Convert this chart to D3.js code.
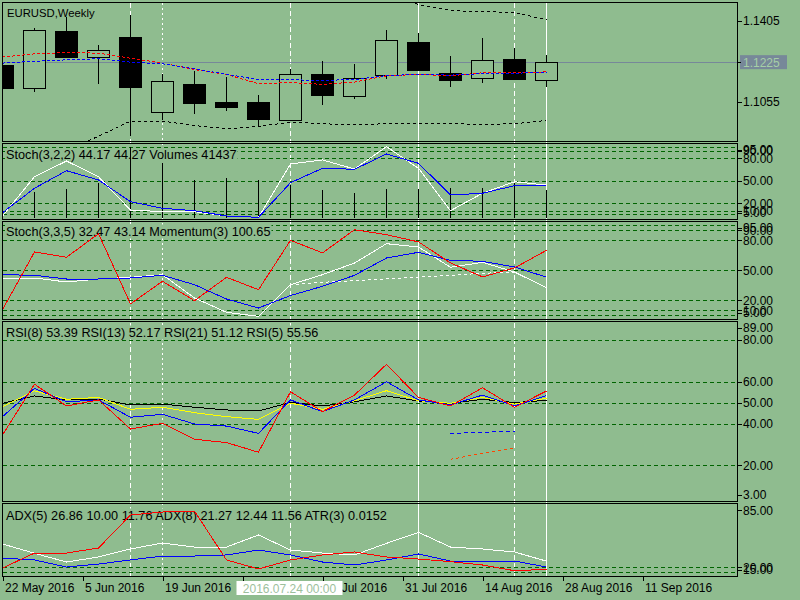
<!DOCTYPE html>
<html>
<head>
<meta charset="utf-8">
<style>
    body { margin: 0; background: #8fbc8f; }
    svg { display: block; font-family: "Liberation Sans", Arial, sans-serif; font-size: 12px; }
    .hdr { font-size: 12.7px; }
    .hdr.sym { font-size: 11.3px; }
</style>
</head>
<body>
<script src="https://cdn.jsdelivr.net/npm/d3@7"></script>
<script type="text/javascript">
    // weekly bars
    var weeks = ["2016-05-22", "2016-05-29", "2016-06-05", "2016-06-12", "2016-06-19", "2016-06-26",
                 "2016-07-03", "2016-07-10", "2016-07-17", "2016-07-24", "2016-07-31", "2016-08-07",
                 "2016-08-14", "2016-08-21", "2016-08-28", "2016-09-04", "2016-09-11", "2016-09-18"];
    var open  = [1.1211, 1.1113, 1.1358, 1.1247, 1.1332, 1.1009, 1.1129, 1.1051, 1.1051, 1.0972, 1.1172, 1.1082, 1.1169, 1.1310, 1.1180, 1.1156, 1.1237, 1.1149];
    var high  = [1.1222, 1.1374, 1.1419, 1.1299, 1.1427, 1.1172, 1.1186, 1.1160, 1.1084, 1.1196, 1.1232, 1.1215, 1.1366, 1.1353, 1.1250, 1.1329, 1.1285, 1.1254];
    var low   = [1.1100, 1.1095, 1.1244, 1.1131, 1.0908, 1.0973, 1.1002, 1.1013, 1.0951, 1.0972, 1.1038, 1.1065, 1.1151, 1.1185, 1.1117, 1.1134, 1.1146, 1.1117];
    var close = [1.1113, 1.1365, 1.1247, 1.1278, 1.1117, 1.1142, 1.1048, 1.1031, 1.0976, 1.1172, 1.1082, 1.1158, 1.1322, 1.1189, 1.1151, 1.1235, 1.1151, 1.1225];
    var maRed  = [1.1247, 1.1261, 1.1266, 1.1264, 1.1242, 1.1221, 1.1193, 1.1172, 1.1132, 1.1137, 1.1129, 1.1139, 1.1166, 1.1172, 1.1166, 1.1179, 1.1179, 1.1183];
    var maBlue = [1.1221, 1.1229, 1.1235, 1.1240, 1.1225, 1.1218, 1.1196, 1.1173, 1.1149, 1.1149, 1.1146, 1.1150, 1.1167, 1.1172, 1.1169, 1.1175, 1.1177, 1.1182];
    var bandLower = [null, null, 1.0843, 1.0905, 1.0970, 1.0970, 1.0951, 1.0937, 1.0947, 1.0966, 1.0959, 1.0954, 1.0959, 1.0959, 1.0959, 1.0956, 1.0959, 1.0973];
    var bandUpper = [null, null, null, null, null, null, null, null, null, null, null, null, 1.1513, 1.1474, 1.1448, 1.1443, 1.1440, 1.1408];
    var bid = 1.1225;
    var priceTicks = [1.1405, 1.1055];

    // Stoch(3,2,2) + Volumes
    var stK1 = [2.7, 55.4, 76.5, 55.4, 10.7, 8.5, 8.5, 2.7, 0.9, 72.5, 77.9, 65.8, 95.7, 66.7, 9.8, 33.2, 48.7, 44.17];
    var stD1 = [7.1, 39.9, 63.5, 51.0, 21.9, 13.0, 9.8, 2.7, 0.9, 47.4, 66.7, 65.4, 85.9, 73.4, 30.9, 33.2, 43.4, 44.27];
    var volumes = [40000, 38900, 42900, 51400, 104600, 81000, 56200, 58800, 56200, 48800, 41400, 36600, 42900, 42900, 44000, 44000, 52200, 41437];
    var stochLevels = [95, 90, 80, 50, 20, 10, 5];

    // Stoch(3,3,5) + Momentum(3)
    var stK2 = [42.3, 42.3, 38.3, 41.3, 43.0, 45.6, 22.3, 8.0, 4.0, 35.6, 45.6, 57.3, 76.6, 73.3, 53.0, 58.0, 48.3, 32.47];
    var stD2 = [45.6, 45.0, 41.3, 41.3, 42.3, 45.0, 35.6, 21.3, 12.3, 24.8, 34.0, 45.0, 62.3, 68.0, 60.0, 59.0, 53.3, 43.14];
    var stS2 = [null, null, null, null, null, null, null, null, null, 35.6, 38.0, 39.6, 41.3, 43.3, 45.0, 47.0, 48.3, null];
    var momentum = [97.68, 100.57, 100.30, 101.48, 97.97, 99.10, 98.13, 99.30, 98.68, 101.15, 100.52, 101.68, 101.43, 101.07, 100.02, 99.32, 99.77, 100.65];

    // RSI
    var rsi5  = [34.5, 58.8, 48.4, 51.3, 37.4, 40.1, 32.5, 30.9, 26.3, 55.2, 45.7, 53.6, 68.3, 52.5, 48.4, 57.1, 47.8, 55.56];
    var rsi8  = [43.3, 56.8, 50.4, 51.3, 43.0, 44.4, 39.8, 38.8, 35.3, 51.3, 45.7, 51.3, 60.0, 51.3, 48.9, 53.6, 48.4, 53.39];
    var rsi13 = [48.1, 55.6, 51.6, 52.5, 46.8, 47.8, 45.2, 43.3, 42.0, 49.7, 46.8, 50.9, 55.7, 50.9, 49.7, 52.5, 49.3, 52.17];
    var rsi21 = [49.7, 53.2, 51.3, 51.7, 48.9, 49.3, 47.8, 46.5, 46.0, 50.1, 48.4, 50.4, 53.2, 50.8, 49.7, 51.6, 50.0, 51.12];
    var rsiAvgBlue = [null, null, null, null, null, null, null, null, null, null, null, null, null, null, 35.3, 35.8, 36.4, null];
    var rsiAvgRed  = [null, null, null, null, null, null, null, null, null, null, null, null, null, null, 22.9, 25.8, 28.2, null];
    var rsiLevels = [80, 60, 50, 40, 20];
    var rsiLabels = [89, 80, 60, 50, 40, 20, 3];

    // ADX
    var adx = [46.4, 35.8, 25.9, 31.6, 40.7, 47.5, 42.9, 42.9, 56.6, 39.5, 36.1, 33.9, 47.1, 59.6, 42.9, 40.7, 37.3, 26.86];
    var pdi = [30.4, 28.2, 20.2, 23.6, 28.2, 32.7, 32.7, 33.9, 39.5, 33.9, 25.9, 22.5, 28.2, 35.0, 27.0, 27.0, 27.0, 20.2];
    var mdi = [19.0, 36.1, 36.1, 41.8, 79.3, 82.7, 83.8, 28.2, 18.0, 28.2, 33.9, 37.3, 31.6, 29.3, 26.3, 22.5, 16.0, 17.6];
    var adxLevels = [20, 15];
    var adxLabels = [85, 20, 15];

    // time axis labels and separator bars
    var dateTicks = ["2016-05-22", "2016-06-05", "2016-06-19", "2016-07-03", "2016-07-17",
                     "2016-07-31", "2016-08-14", "2016-08-28", "2016-09-11"];
    var separators = [4, 5, 9, 13, 16, 17];
    var separatorDash = ["5,3", "2,3", "5,3", null, "5,3", null];
    var crossBar = 9;

    var W = 800, H = 600, bg = "#8fbc8f", left = 2.5, right = 737.5, grid = "#006400";
    var parse = d3.utcParse("%Y-%m-%d");

    var svg = d3.select("body").append("svg").attr("width", W).attr("height", H);
    svg.append("rect").attr("width", W).attr("height", H).attr("fill", bg);

    var x = d3.scaleLinear().domain([0, 1]).range([2.5, 34.5]);
    var xt = d3.scaleUtc().domain([parse("2016-05-22"), parse("2016-06-05")]).range([2.5, 82.5]);

    var panels = [
        { id: "main", top: 2.5,   bottom: 141.5, base: 16.5,  y: d3.scaleLinear().domain([1.1055, 1.1405]).range([101.5, 20.5]) },
        { id: "st1",  top: 143.5, bottom: 219.5, base: 159,   y: d3.scaleLinear().domain([0, 100]).range([218, 143.5]) },
        { id: "st2",  top: 221.5, bottom: 319.5, base: 235.5, y: d3.scaleLinear().domain([0, 100]).range([320.3, 220.3]) },
        { id: "rsi",  top: 321.5, bottom: 501.5, base: 336.5, y: d3.scaleLinear().domain([3, 89]).range([501, 321]) },
        { id: "adx",  top: 503.5, bottom: 576.5, base: 519.5, y: d3.scaleLinear().domain([10, 85]).range([576, 510]) }
    ];
    var P = {};
    panels.forEach(function (p) { P[p.id] = p; });
    var yVol = d3.scaleLinear().domain([0, 110000]).range([218, 143.5]);
    var yMom = d3.scaleLinear().domain([97.15, 102.15]).range([320.3, 220.3]);

    // separator bars behind everything
    svg.append("g").selectAll("line")
        .data(separators)
        .enter().append("line")
        .attr("x1", function (d) { return x(d); })
        .attr("x2", function (d) { return x(d); })
        .attr("y1", 2.5).attr("y2", 576.5)
        .attr("stroke", "#ffffff")
        .attr("stroke-dasharray", function (d, i) { return separatorDash[i]; })
        .attr("shape-rendering", "crispEdges");

    // panel groups with clipping
    panels.forEach(function (p) {
        svg.append("clipPath").attr("id", "clip-" + p.id)
            .append("rect").attr("x", left).attr("y", p.top)
            .attr("width", right - left).attr("height", p.bottom - p.top);
        p.g = svg.append("g").attr("clip-path", "url(#clip-" + p.id + ")");
    });

    function levels(p, vals) {
        p.g.selectAll(null).data(vals).enter().append("line")
            .attr("x1", left).attr("x2", right)
            .attr("y1", function (d) { return Math.round(p.y(d)) + 0.5; })
            .attr("y2", function (d) { return Math.round(p.y(d)) + 0.5; })
            .attr("stroke", grid).attr("stroke-dasharray", "4,3")
            .attr("shape-rendering", "crispEdges");
    }

    function header(p, txt, tx, cls) {
        var t = p.g.append("text").attr("class", "hdr " + (cls || "")).attr("x", tx).attr("y", p.base).attr("fill", "#000").text(txt);
        var b = t.node().getBBox();
        p.g.insert("rect", function () { return t.node(); })
            .attr("x", b.x - 1).attr("y", b.y).attr("width", b.width + 2).attr("height", b.height)
            .attr("fill", bg);
    }

    function series(p, vals, color, dash, scale) {
        var sc = scale || p.y;
        var line = d3.line()
            .defined(function (d) { return d != null; })
            .x(function (d, i) { return x(i); })
            .y(function (d) { return sc(d); });
        p.g.append("path").datum(vals)
            .attr("d", line)
            .attr("fill", "none")
            .attr("stroke", color)
            .attr("stroke-width", 1)
            .attr("stroke-dasharray", dash)
            .attr("shape-rendering", "crispEdges");
    }

    function valueAxis(p, vals, fmt) {
        var g = svg.append("g");
        vals.forEach(function (v) {
            var yy = Math.max(p.top + 6, Math.min(p.bottom - 7, p.y(v)));
            g.append("line").attr("x1", right).attr("x2", right + 4)
                .attr("y1", Math.round(yy) + 0.5).attr("y2", Math.round(yy) + 0.5)
                .attr("stroke", "#000").attr("shape-rendering", "crispEdges");
            g.append("text").attr("x", 743).attr("y", yy + 4.5).attr("fill", "#000").text(fmt(v));
        });
    }

    // ---- main price panel
    var pm = P.main;
    pm.g.append("line")
        .attr("x1", left).attr("x2", right)
        .attr("y1", Math.round(pm.y(bid)) + 0.5).attr("y2", Math.round(pm.y(bid)) + 0.5)
        .attr("stroke", "#778899").attr("shape-rendering", "crispEdges");
    header(pm, "EURUSD,Weekly", 7, "sym");
    series(pm, bandLower, "#000", "3,3");
    series(pm, bandUpper, "#000", "3,3");

    var candles = pm.g.selectAll("g.candle")
        .data(weeks)
        .enter().append("g").attr("class", "candle");
    candles.append("line")
        .attr("x1", function (d, i) { return x(i); })
        .attr("x2", function (d, i) { return x(i); })
        .attr("y1", function (d, i) { return Math.round(pm.y(high[i])); })
        .attr("y2", function (d, i) { return Math.round(pm.y(low[i])); })
        .attr("stroke", "#000").attr("shape-rendering", "crispEdges");
    candles.append("rect")
        .attr("x", function (d, i) { return x(i) - 11; })
        .attr("y", function (d, i) { return Math.round(pm.y(Math.max(open[i], close[i]))) + 0.5; })
        .attr("width", 22)
        .attr("height", function (d, i) { return Math.max(1, Math.round(Math.abs(pm.y(open[i]) - pm.y(close[i])))); })
        .attr("fill", function (d, i) { return close[i] >= open[i] ? bg : "#000"; })
        .attr("stroke", "#000").attr("shape-rendering", "crispEdges");

    series(pm, maRed, "#ff0000", "3,2");
    series(pm, maBlue, "#0000ff", "3,2");
    valueAxis(pm, priceTicks, d3.format(".4f"));

    // bid label
    var by = pm.y(bid);
    svg.append("rect").attr("x", 740).attr("y", by - 7).attr("width", 47).attr("height", 14)
        .attr("fill", "#778899");
    svg.append("line").attr("x1", right).attr("x2", 741).attr("y1", Math.round(by) + 0.5).attr("y2", Math.round(by) + 0.5)
        .attr("stroke", "#000").attr("shape-rendering", "crispEdges");
    svg.append("text").attr("x", 743).attr("y", by + 4.5).attr("fill", "#a6cfa6").text(d3.format(".4f")(bid));

    // ---- Stoch(3,2,2) + Volumes
    var p1 = P.st1;
    levels(p1, stochLevels);
    header(p1, "Stoch(3,2,2) " + stK1[17].toFixed(2) + " " + stD1[17].toFixed(2) + " Volumes " + volumes[17], 6);
    p1.g.selectAll("line.vol").data(volumes).enter().append("line").attr("class", "vol")
        .attr("x1", function (d, i) { return x(i); })
        .attr("x2", function (d, i) { return x(i); })
        .attr("y1", yVol(0))
        .attr("y2", function (d) { return Math.round(yVol(d)); })
        .attr("stroke", "#000").attr("shape-rendering", "crispEdges");
    series(p1, stK1, "#ffffff");
    series(p1, stD1, "#0000ff");
    valueAxis(p1, stochLevels, d3.format(".2f"));

    // ---- Stoch(3,3,5) + Momentum(3)
    var p2 = P.st2;
    levels(p2, stochLevels);
    header(p2, "Stoch(3,3,5) " + stK2[17].toFixed(2) + " " + stD2[17].toFixed(2) + " Momentum(3) " + momentum[17].toFixed(2), 6);
    series(p2, stS2, "#ffffff", "3,3");
    series(p2, stK2, "#ffffff");
    series(p2, stD2, "#0000ff");
    series(p2, momentum, "#ff0000", null, yMom);
    valueAxis(p2, stochLevels, d3.format(".2f"));

    // ---- RSI
    var pr = P.rsi;
    levels(pr, rsiLevels);
    header(pr, "RSI(8) " + rsi8[17].toFixed(2) + " RSI(13) " + rsi13[17].toFixed(2) + " RSI(21) " + rsi21[17].toFixed(2) + " RSI(5) " + rsi5[17].toFixed(2), 6);
    series(pr, rsiAvgBlue, "#0000ff", "4,3");
    series(pr, rsiAvgRed, "#ff4500", "3,3");
    series(pr, rsi21, "#000000");
    series(pr, rsi13, "#ffff00");
    series(pr, rsi8, "#0000ff");
    series(pr, rsi5, "#ff0000");
    valueAxis(pr, rsiLabels, d3.format(".2f"));

    // ---- ADX
    var pa = P.adx;
    levels(pa, adxLevels);
    header(pa, "ADX(5) 26.86 10.00 11.76 ADX(8) 21.27 12.44 11.56 ATR(3) 0.0152", 6);
    series(pa, adx, "#ffffff");
    series(pa, pdi, "#0000ff");
    series(pa, mdi, "#ff0000");
    valueAxis(pa, adxLabels, d3.format(".2f"));

    // frames
    panels.forEach(function (p) {
        svg.append("rect").attr("x", left).attr("y", p.top)
            .attr("width", right - left).attr("height", p.bottom - p.top)
            .attr("fill", "none").attr("stroke", "#000").attr("shape-rendering", "crispEdges");
    });

    // time axis
    var fmtDate = d3.utcFormat("%-d %b %Y");
    var ta = svg.append("g");
    dateTicks.forEach(function (d) {
        var tx = Math.round(xt(parse(d))) + 0.5;
        ta.append("line").attr("x1", tx).attr("x2", tx).attr("y1", 576.5).attr("y2", 580.5)
            .attr("stroke", "#000").attr("shape-rendering", "crispEdges");
        ta.append("text").attr("x", tx + 1.5).attr("y", 592).attr("fill", "#000").text(fmtDate(parse(d)));
    });

    // crosshair date label
    var cx = x(crossBar);
    svg.append("rect").attr("x", cx - 54).attr("y", 581).attr("width", 106).attr("height", 14).attr("fill", "#ffffff");
    svg.append("text").attr("x", cx - 1).attr("y", 592.5).attr("text-anchor", "middle")
        .attr("fill", "#9dbf9d").text(d3.utcFormat("%Y.%m.%d %H:%M")(parse(weeks[crossBar])));
</script>
</body>
</html>
